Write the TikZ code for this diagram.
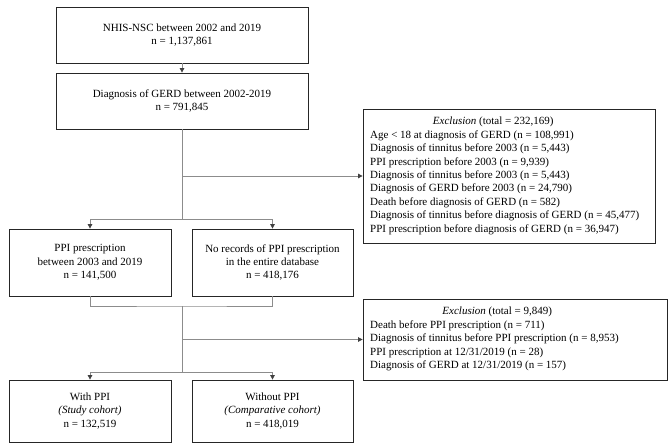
\documentclass[tikz,border=0pt]{standalone}
\usepackage{fontspec}
\setmainfont{Liberation Serif}
\usetikzlibrary{arrows.meta}
\begin{document}
\begin{tikzpicture}[x=1pt,y=-1pt,
  font=\fontsize{11}{13.4}\selectfont,
  box/.style={draw=black!85,line width=0.8pt,align=center,inner sep=0pt},
  exbox/.style={draw=black!85,line width=0.8pt,inner sep=0pt},
  extext/.style={align=left,anchor=north west,inner sep=0pt},
  conn/.style={draw=black!45,line width=0.8pt},
  arr/.style={conn,-{Triangle[length=4.5pt,width=4.5pt,fill=black!75,color=black!75]}}]
\useasboundingbox (0,0) rectangle (669,445);
\node[box,minimum width=252pt,minimum height=56pt] (n1) at (182,35) {NHIS-NSC between 2002 and 2019\\n = 1,137,861};
\node[box,minimum width=252pt,minimum height=56pt] (n2) at (182,101) {Diagnosis of GERD between 2002-2019\\n = 791,845};
\node[exbox,minimum width=292pt,minimum height=134pt] (e1) at (509,176) {};
\node[extext] (e1t) at (370,117) {\makebox[246pt]{\textit{Exclusion} (total = 232,169)}\\
Age < 18 at diagnosis of GERD (n = 108,991)\\
Diagnosis of tinnitus before 2003 (n = 5,443)\\
PPI prescription before 2003 (n = 9,939)\\
Diagnosis of tinnitus before 2003 (n = 5,443)\\
Diagnosis of GERD before 2003 (n = 24,790)\\
Death before diagnosis of GERD (n = 582)\\
Diagnosis of tinnitus before diagnosis of GERD (n = 45,477)\\
PPI prescription before diagnosis of GERD (n = 36,947)};
\node[box,minimum width=162pt,minimum height=67pt] (n3) at (90,262.5) {PPI prescription\\between 2003 and 2019\\n = 141,500};
\node[box,minimum width=161pt,minimum height=67pt] (n4) at (272.5,262.5) {No records of PPI prescription\\in the entire database\\n = 418,176};
\node[exbox,minimum width=304pt,minimum height=81pt] (e2) at (515,339.5) {};
\node[extext] (e2t) at (370,307) {\makebox[254pt]{\textit{Exclusion} (total = 9,849)}\\
Death before PPI prescription (n = 711)\\
Diagnosis of tinnitus before PPI prescription (n = 8,953)\\
PPI prescription at 12/31/2019 (n = 28)\\
Diagnosis of GERD at 12/31/2019 (n = 157)};
\node[box,minimum width=162pt,minimum height=62pt] (n5) at (90,411) {With PPI\\\textit{(Study cohort)}\\n = 132,519};
\node[box,minimum width=161pt,minimum height=62pt] (n6) at (272.5,411) {Without PPI\\\textit{(Comparative cohort)}\\n = 418,019};
\coordinate (s1) at (182,219);
\coordinate (b1) at (182,176);
\coordinate (s2) at (182,306);
\coordinate (s3) at (182,372);
\coordinate (b2) at (182,339.5);
\draw[arr] (n1.south) -- (n2.south |- n2.north);
\draw[conn] (n2.south) -- (s1);
\draw[arr] (s1) -| (n3.north);
\draw[arr] (s1) -| (n4.north);
\draw[arr] (b1) -- (e1.west |- b1);
\draw[conn] (n3.south) |- (s2) -| (n4.south);
\draw[conn] (s2) -- (s3);
\draw[arr] (s3) -| (n5.north);
\draw[arr] (s3) -| (n6.north);
\draw[arr] (b2) -- (e2.west |- b2);
\end{tikzpicture}
\end{document}
